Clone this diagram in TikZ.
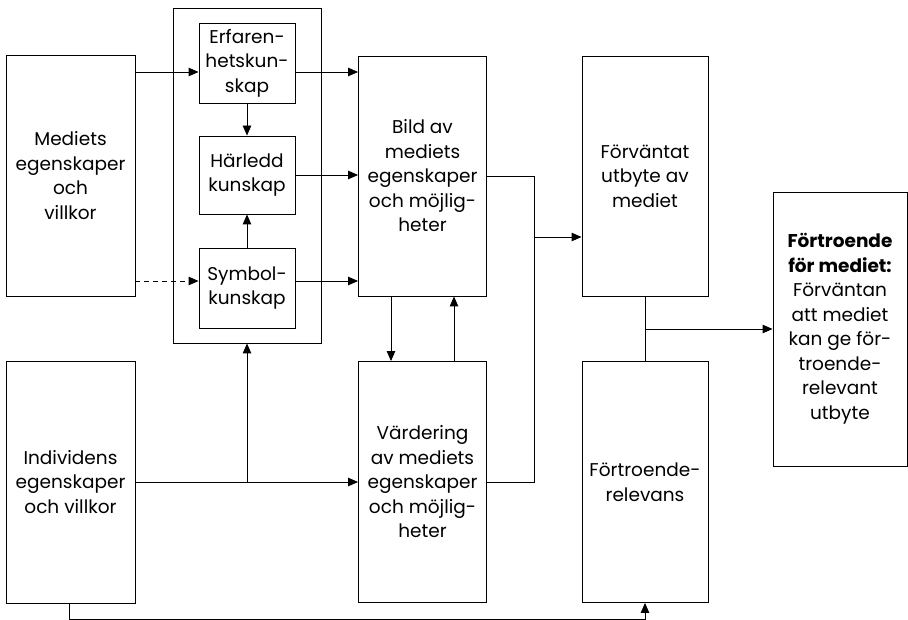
\documentclass[tikz,border=0pt]{standalone}
\usepackage{fontspec}
\setmainfont{Poppins}
\usepackage{tikz}
\usetikzlibrary{arrows.meta}

\begin{document}
\begin{tikzpicture}[x=1pt,y=-1pt,
  box/.style={draw,line width=0.9pt,align=center,inner sep=0pt,font=\fontsize{18.5}{24.5}\selectfont},
  pil/.style={-{Triangle[length=10pt,width=8.5pt]},line width=0.9pt},
  linje/.style={line width=0.9pt}]
\useasboundingbox (0,0) rectangle (908,620);
\node[box,minimum width=129,minimum height=241] (mediets) at (70.5,175.5) {Mediets\\egenskaper\\och\\villkor};
\node[box,minimum width=129,minimum height=242] (individ) at (70.5,482) {Individens\\egenskaper\\och villkor};
\node[box,minimum width=148,minimum height=335] (grupp) at (247,175.5) {};
\node[box,minimum width=96,minimum height=80] (erf) at (247,63) {Erfaren-\\hetskun-\\skap};
\node[box,minimum width=96,minimum height=78] (harl) at (247,175) {Härledd\\kunskap};
\node[box,minimum width=96,minimum height=80] (symb) at (247,288) {Symbol-\\kunskap};
\node[box,minimum width=128,minimum height=240] (bild) at (422.5,176) {Bild av\\mediets\\egenskaper\\och möjlig-\\heter};
\node[box,minimum width=128,minimum height=241] (varde) at (422.5,482) {Värdering\\av mediets\\egenskaper\\och möjlig-\\heter};
\node[box,minimum width=126,minimum height=240] (forv) at (645,176) {Förväntat\\utbyte av\\mediet};
\node[box,minimum width=126,minimum height=241] (relev) at (645,482) {Förtroende-\\relevans};
\node[box,minimum width=134,minimum height=274] (fortr) at (840,329) {\textbf{Förtroende}\\\textbf{för mediet:}\\Förväntan\\att mediet\\kan ge för-\\troende-\\relevant\\utbyte};
\coordinate (r1) at (0,72);
\coordinate (r2) at (0,237);
\coordinate (r3) at (0,281);
\coordinate (knut) at (534,0);
\coordinate (ned) at (391,0);
\coordinate (upp) at (454,0);
\coordinate (start) at (69,0);
\coordinate (botten) at (0,619);
\draw[pil] (mediets.east |- r1) -- (erf.west |- r1);
\draw[pil,dash pattern=on 5pt off 4pt] (mediets.east |- r3) -- (symb.west |- r3);
\draw[pil] (erf.east |- r1) -- (bild.west |- r1);
\draw[pil] (harl.east) -- (bild.west |- harl.east);
\draw[pil] (symb.east |- r3) -- (bild.west |- r3);
\draw[pil] (erf.south) -- (harl.north);
\draw[pil] (symb.north) -- (harl.south);
\draw[pil] (individ.east) -- (varde.west);
\draw[pil] (grupp.south |- individ.east) -- (grupp.south);
\draw[linje] (bild.east) -- (knut |- bild.east) -- (knut |- varde.east) -- (varde.east);
\draw[pil] (knut |- r2) -- (forv.west |- r2);
\draw[pil] (bild.south -| ned) -- (varde.north -| ned);
\draw[pil] (varde.north -| upp) -- (bild.south -| upp);
\draw[linje] (forv.south) -- (relev.north);
\draw[pil] (forv.south |- fortr.west) -- (fortr.west);
\draw[pil] (individ.south -| start) -- (start |- botten) -- (relev.south |- botten) -- (relev.south);
\end{tikzpicture}
\end{document}
